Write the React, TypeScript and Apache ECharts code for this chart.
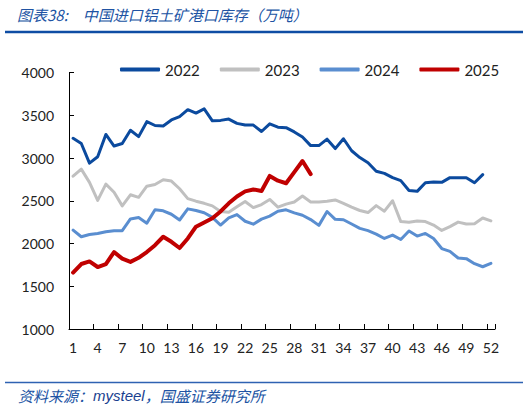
import React, { useEffect, useRef } from "react";
import * as echarts from "echarts";

const weeks = [
  "1", "2", "3", "4", "5", "6", "7", "8", "9", "10", "11", "12", "13",
  "14", "15", "16", "17", "18", "19", "20", "21", "22", "23", "24", "25", "26",
  "27", "28", "29", "30", "31", "32", "33", "34", "35", "36", "37", "38", "39",
  "40", "41", "42", "43", "44", "45", "46", "47", "48", "49", "50", "51", "52",
];

const seriesNames = ["2022", "2023", "2024", "2025"];

const v2022 = [
  3230, 3170, 2940, 3015, 3275, 3140, 3170, 3325, 3250, 3425,
  3380, 3375, 3445, 3485, 3565, 3525, 3575, 3435, 3440, 3455,
  3405, 3385, 3385, 3310, 3400, 3360, 3355, 3305, 3245, 3145,
  3145, 3220, 3110, 3225, 3085, 3005, 2945, 2845, 2820, 2770,
  2735, 2620, 2610, 2710, 2720, 2715, 2770, 2770, 2770, 2710, 2805,
];

const v2023 = [
  2787, 2870, 2715, 2505, 2695, 2600, 2440, 2570, 2540, 2670,
  2690, 2745, 2730, 2640, 2525, 2495, 2470, 2440, 2375, 2365,
  2430, 2492, 2420, 2455, 2515, 2425, 2460, 2485, 2555, 2485,
  2485, 2495, 2510, 2470, 2425, 2386, 2362, 2443, 2378, 2500,
  2256, 2248, 2262, 2256, 2216, 2153, 2197, 2250, 2228, 2232, 2298, 2265,
];

const v2024 = [
  2157, 2079, 2106, 2118, 2138, 2150, 2150, 2287, 2303, 2238,
  2394, 2382, 2342, 2275, 2405, 2386, 2360, 2305, 2216, 2300,
  2338, 2260, 2226, 2285, 2320, 2378, 2394, 2358, 2330, 2280,
  2212, 2374, 2283, 2278, 2228, 2177, 2150, 2110, 2059, 2098,
  2047, 2146, 2087, 2118, 2059, 1941, 1907, 1830, 1823, 1764, 1728, 1768,
];

const v2025 = [
  1660, 1760, 1790, 1725, 1760, 1900, 1823, 1785, 1833, 1900,
  1980, 2079, 2020, 1947, 2059, 2197, 2246, 2295, 2375, 2470,
  2550, 2610, 2632, 2615, 2790, 2735, 2705, 2835, 2965, 2812,
];

const seriesValues = [v2022, v2023, v2024, v2025];
const seriesColors = ["#0B4A9E", "#C0C0C0", "#5A8ED0", "#C00000"];
const seriesWidths = [3, 3, 3, 4];

const titleText = "图表38:\u3000中国进口铝土矿港口库存（万吨）";
const sourcePrefix = "资料来源：";
const sourceName = "mysteel";
const sourceSuffix = "，国盛证券研究所";

const FONT = "Lato, 'Liberation Sans', sans-serif";
const CJK = "'Noto Sans CJK SC', 'Liberation Sans', sans-serif";
const BLUE_TEXT = "#2053A3";

export default function App() {
  const ref = useRef<HTMLDivElement>(null);

  useEffect(() => {
    if (!ref.current) return;
    const chart = echarts.init(ref.current, null, { renderer: "svg" });
    chart.setOption({
      animation: false,
      backgroundColor: "#ffffff",
      textStyle: { fontFamily: FONT },
      grid: { left: 69, right: 36, top: 72.5, bottom: 78, containLabel: false },
      legend: {
        data: seriesNames,
        left: 120,
        top: 62,
        padding: 0,
        itemWidth: 40,
        itemHeight: 4,
        itemGap: 20,
        icon: "roundRect",
        textStyle: { fontSize: 15, color: "#222", fontFamily: FONT },
      },
      xAxis: {
        type: "category",
        data: weeks,
        boundaryGap: true,
        axisLine: { show: true, lineStyle: { color: "#000", width: 1 } },
        axisTick: {
          show: true,
          inside: true,
          length: 5,
          interval: 2,
          lineStyle: { color: "#000", width: 1 },
        },
        axisLabel: {
          interval: 2,
          fontSize: 14,
          color: "#222",
          margin: 11,
          fontFamily: FONT,
        },
        splitLine: { show: false },
      },
      yAxis: {
        type: "value",
        min: 1000,
        max: 4000,
        interval: 500,
        axisLine: { show: true, lineStyle: { color: "#000", width: 1 } },
        axisTick: { show: true, inside: true, length: 5, lineStyle: { color: "#000", width: 1 } },
        axisLabel: {
          fontSize: 14,
          color: "#222",
          margin: 15,
          fontFamily: FONT,
          formatter: (v: number) => String(v),
        },
        splitLine: { show: false },
      },
      series: seriesNames.map((name, i) => ({
        name,
        type: "line",
        data: seriesValues[i],
        symbol: "none",
        showSymbol: false,
        smooth: false,
        color: seriesColors[i],
        lineStyle: {
          color: seriesColors[i],
          width: seriesWidths[i],
          cap: "round",
          join: "round",
        },
        z: 2 + i,
      })),
      graphic: [
        {
          type: "text",
          x: 17,
          y: 14.5,
          style: {
            text: titleText,
            fill: BLUE_TEXT,
            fontSize: 15,
            fontStyle: "italic",
            fontFamily: CJK,
            verticalAlign: "middle",
          },
        },
        {
          type: "line",
          shape: { x1: 5, y1: 32, x2: 523, y2: 32 },
          style: { stroke: "#0E4DA4", lineWidth: 2.5 },
        },
        {
          type: "line",
          shape: { x1: 5, y1: 382.5, x2: 523, y2: 382.5 },
          style: { stroke: "#2E62B2", lineWidth: 1.5 },
        },
        {
          type: "text",
          x: 18,
          y: 395,
          style: {
            text: "{a|" + sourcePrefix + "}{b|" + sourceName + "}{a|" + sourceSuffix + "}",
            verticalAlign: "middle",
            rich: {
              a: {
                fill: BLUE_TEXT,
                fontSize: 15,
                fontStyle: "italic",
                fontFamily: CJK,
              },
              b: {
                fill: "#1A3F8F",
                fontSize: 15,
                fontStyle: "italic",
                fontFamily: "'Liberation Sans', sans-serif",
              },
            },
          },
        },
      ],
    });
    return () => chart.dispose();
  }, []);

  return (
    <div
      ref={ref}
      style={{ position: "fixed", left: 0, top: 0, width: 531, height: 407, background: "#fff" }}
    />
  );
}
